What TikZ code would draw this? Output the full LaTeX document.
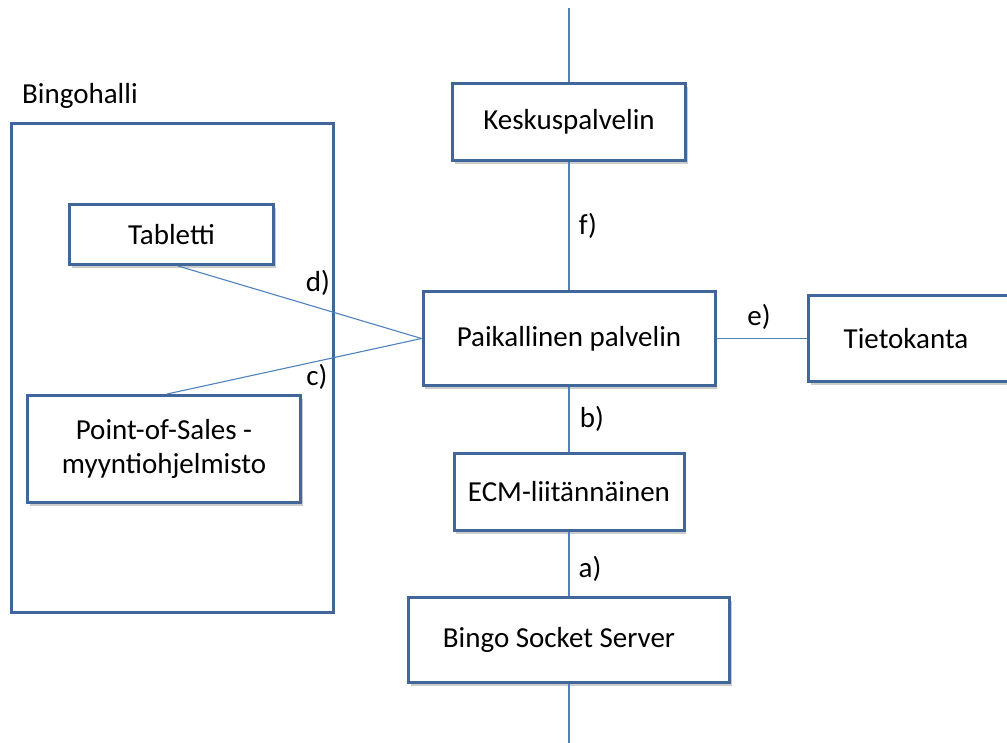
\documentclass[tikz,border=0pt]{standalone}
\usepackage{fontspec}
\setmainfont{Carlito}
\usetikzlibrary{shadows}
\definecolor{boxblue}{HTML}{41679A}
\definecolor{wireblue}{HTML}{4F81BD}
\begin{document}
\begin{tikzpicture}[x=1pt,y=-1pt,
  every node/.style={font=\fontsize{29}{34}\selectfont, inner sep=0pt},
  unit/.style={draw=boxblue, line width=3pt, fill=white, align=center,
    drop shadow={shadow xshift=2pt, shadow yshift=-3pt, fill=black, opacity=0.2}},
  hallbox/.style={draw=boxblue, line width=3pt},
  wire/.style={draw=wireblue, line width=1.1pt},
  tag/.style={text=black}]
\clip (0,0) rectangle (1007,742);

% the hall and its devices
\node[hallbox, minimum width=322, minimum height=489] (hall) at (172.5,368) {};
\node[anchor=base west] (hallname) at (22,103) {Bingohalli};
\node[unit, minimum width=204, minimum height=60] (tab) at (171.5,234.5) {Tabletti};
\node[unit, minimum width=273, minimum height=107] (pos) at (164,449) {Point-of-Sales -\\myyntiohjelmisto};

% server chain
\node[unit, minimum width=233, minimum height=77] (kesk) at (569,122) {Keskuspalvelin};
\node[unit, minimum width=292, minimum height=94] (paik) at (569,338.5) {Paikallinen palvelin};
\node[unit, minimum width=203, minimum height=86] (tieto) at (910,338.5) {Tietokanta\hspace*{8pt}};
\node[unit, minimum width=230, minimum height=77] (ecm) at (569,492) {ECM-liitännäinen};
\node[unit, minimum width=321, minimum height=85] (bss) at (569,640) {Bingo Socket Server\hspace*{20pt}};

\coordinate (feedtop) at (569,8);
\coordinate (feedbot) at (569,748);

% connections
\draw[wire] (feedtop) -- (kesk.north);
\draw[wire] (kesk.south) -- (paik.north);
\draw[wire] (paik.south) -- (ecm.north);
\draw[wire] (ecm.south) -- (bss.north);
\draw[wire] (bss.south) -- (feedbot);
\draw[wire] (paik.east) -- (tieto.west);
\draw[wire] ([xshift=6.5pt]tab.south) -- (paik.west);
\draw[wire] ([xshift=3pt]pos.north) -- (paik.west);

% connection labels
\node[tag] (lf) at (588,226) {f)};
\node[tag] (ld) at (318,283) {d)};
\node[tag] (lc) at (317,377) {c)};
\node[tag] (le) at (759,317) {e)};
\node[tag] (lb) at (592,419) {b)};
\node[tag] (la) at (590,569) {a)};
\end{tikzpicture}
\end{document}
